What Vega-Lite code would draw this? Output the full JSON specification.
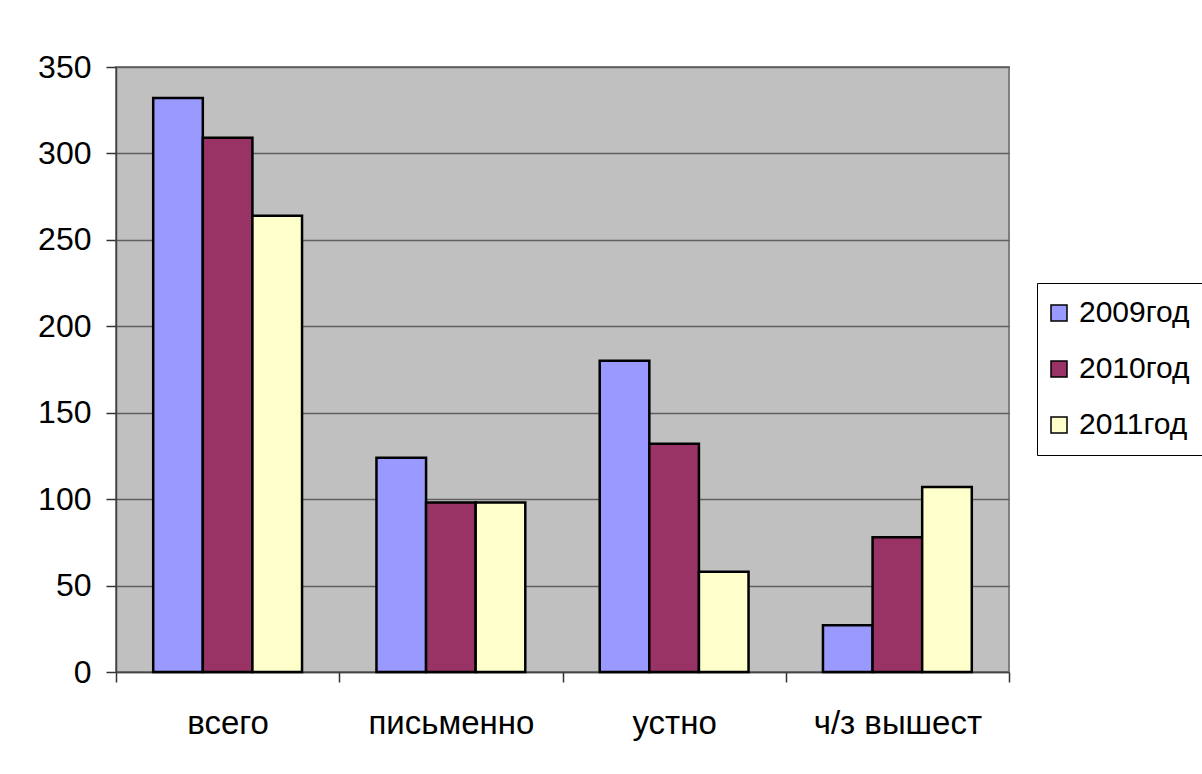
{
  "$schema": "https://vega.github.io/schema/vega-lite/v6.json",
  "width": 893,
  "height": 605,
  "autosize": "none",
  "padding": {"left": 116, "top": 67, "right": 193, "bottom": 102},
  "background": "white",
  "data": {
    "values": [
      {"category": "всего", "year": "2009год", "value": 332},
      {"category": "всего", "year": "2010год", "value": 309},
      {"category": "всего", "year": "2011год", "value": 264},
      {"category": "письменно", "year": "2009год", "value": 124},
      {"category": "письменно", "year": "2010год", "value": 98},
      {"category": "письменно", "year": "2011год", "value": 98},
      {"category": "устно", "year": "2009год", "value": 180},
      {"category": "устно", "year": "2010год", "value": 132},
      {"category": "устно", "year": "2011год", "value": 58},
      {"category": "ч/з вышест", "year": "2009год", "value": 27},
      {"category": "ч/з вышест", "year": "2010год", "value": 78},
      {"category": "ч/з вышест", "year": "2011год", "value": 107}
    ]
  },
  "mark": {"type": "bar", "stroke": "black", "strokeWidth": 2.5},
  "encoding": {
    "x": {
      "field": "category",
      "type": "nominal",
      "sort": null,
      "scale": {"paddingInner": 0, "paddingOuter": 0},
      "axis": {
        "title": null,
        "labelAngle": 0,
        "labelFontSize": 33,
        "labelColor": "black",
        "labelPadding": 25,
        "tickBand": "extent",
        "tickSize": 10,
        "tickColor": "#333333",
        "tickWidth": 1.5,
        "domainColor": "#444444",
        "domainWidth": 1.5,
        "grid": false
      }
    },
    "xOffset": {
      "field": "year",
      "type": "nominal",
      "scale": {"paddingInner": 0, "paddingOuter": 0.75}
    },
    "y": {
      "field": "value",
      "type": "quantitative",
      "scale": {"domain": [0, 350], "nice": false},
      "axis": {
        "title": null,
        "values": [0, 50, 100, 150, 200, 250, 300, 350],
        "labelFontSize": 32,
        "labelColor": "black",
        "labelPadding": 15,
        "tickSize": 10,
        "tickColor": "#333333",
        "tickWidth": 1.5,
        "domainColor": "#444444",
        "domainWidth": 1.5,
        "grid": true,
        "gridColor": "#5f5f5f",
        "gridWidth": 1.5
      }
    },
    "color": {
      "field": "year",
      "type": "nominal",
      "scale": {
        "domain": ["2009год", "2010год", "2011год"],
        "range": ["#9999FF", "#993366", "#FFFFCC"]
      },
      "legend": {
        "title": null,
        "orient": "none",
        "legendX": 921,
        "legendY": 216,
        "fillColor": "white",
        "strokeColor": "black",
        "padding": 15,
        "symbolOffset": -8,
        "symbolType": "square",
        "symbolSize": 256,
        "symbolStrokeColor": "black",
        "symbolStrokeWidth": 1.5,
        "symbolOpacity": 1,
        "labelFontSize": 30,
        "labelColor": "black",
        "labelOffset": 5,
        "rowPadding": 26
      }
    }
  },
  "config": {
    "font": "Liberation Sans",
    "view": {"fill": "#C0C0C0", "stroke": "#808080", "strokeWidth": 2}
  }
}
